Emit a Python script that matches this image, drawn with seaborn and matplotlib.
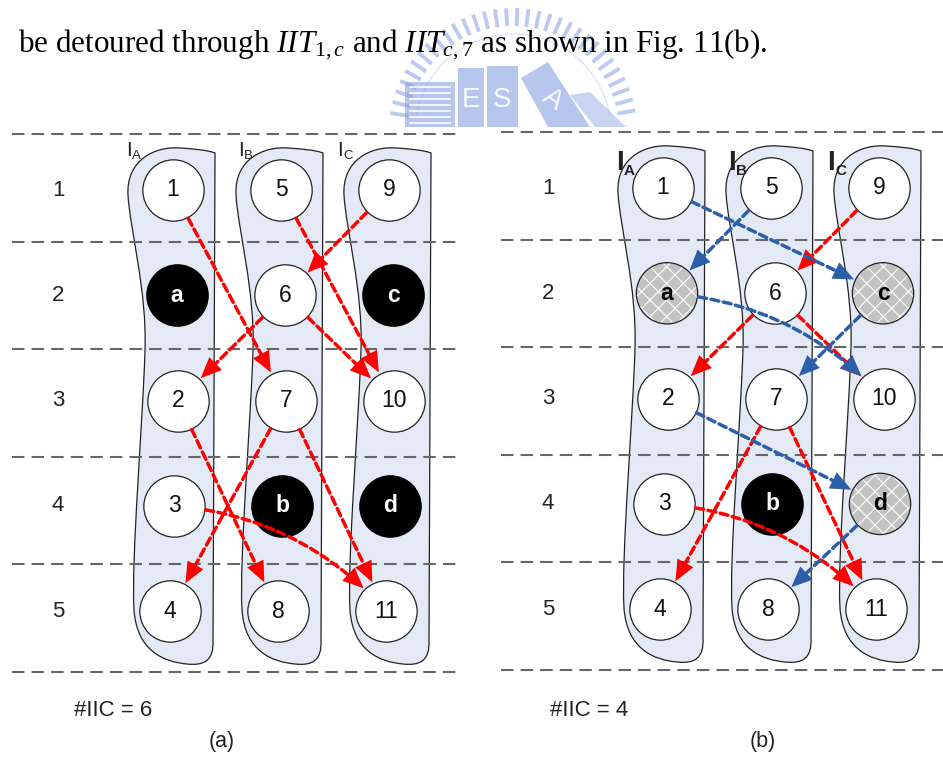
"""Fig. 11: inter-island connections before (a) and after (b) detouring."""

import matplotlib.pyplot as plt
import numpy as np
import pandas as pd
import seaborn as sns
from matplotlib.patches import PathPatch, Polygon, Rectangle
from matplotlib.path import Path

# ---- data -------------------------------------------------------------
row_labels = ["1", "2", "3", "4", "5"]
column_names = ["A", "B", "C"]
column_nodes = [
    ["1", "a", "2", "3", "4"],
    ["5", "6", "7", "b", "8"],
    ["9", "c", "10", "d", "11"],
]
panel_names = ["(a)", "(b)"]
iic_counts = [6, 4]
black_nodes = [["a", "b", "c", "d"], ["b"]]
hatched_nodes = [[], ["a", "c", "d"]]
red_edges = [
    [("1", "7"), ("5", "10"), ("9", "6"), ("6", "2"), ("6", "10"),
     ("2", "8"), ("7", "4"), ("7", "11"), ("3", "11")],
    [("9", "6"), ("6", "2"), ("6", "10"), ("7", "4"), ("7", "11"), ("3", "11")],
]
blue_edges = [
    [],
    [("1", "c"), ("5", "a"), ("a", "10"), ("c", "7"), ("2", "d"), ("d", "8")],
]
curved_edges = [("3", "11"), ("a", "10")]
sentence = (r"be detoured through $\mathit{IIT}_{\mathit{1,c}}$ and "
            r"$\mathit{IIT}_{\mathit{c,7}}$ as shown in Fig. 11(b).")

# ---- layout / style ---------------------------------------------------
W, H = 943, 758
panel_dx = [0, 490]
panel_dy = [0, -2]
col_x = 175 + 108 * np.arange(3)
row_y = 190 + 105.3 * np.arange(5)
row_wobble = [-2, 2, 3, -1, -5]
line_y = 134 + 107.6 * np.arange(6)
line_x = [(12, 462), (501, 943)]
label_dx = [-49, -45, -54]
iic_x = [74, 550]
caption_x = [222, 763]
RED = "#ff0000"
BLUE = "#2d5fa9"
BLOB = "#e3eaf6"
MARK = "#86a0e2"
NODE_S = 1950
NODE_R = 23      # node radius in points
HEAD_L = 15      # arrow head length in points

sns.set_theme(style="white")
plt.rcParams["font.family"] = ["Liberation Sans", "DejaVu Sans"]
plt.rcParams["mathtext.fontset"] = "custom"
plt.rcParams["mathtext.rm"] = "Liberation Serif"
plt.rcParams["mathtext.it"] = "Liberation Serif:italic"
plt.rcParams["hatch.linewidth"] = 0.8
plt.rcParams["hatch.color"] = "white"

rows = []
for p in range(2):
    for c, names in enumerate(column_nodes):
        for r, name in enumerate(names):
            kind = "white"
            if name in black_nodes[p]:
                kind = "black"
            elif name in hatched_nodes[p]:
                kind = "hatched"
            rows.append(dict(panel=p, name=name, kind=kind,
                             x=col_x[c] + row_wobble[r] + panel_dx[p],
                             y=row_y[r] + panel_dy[p]))
nodes = pd.DataFrame(rows)


def node_xy(p, name):
    row = nodes[(nodes.panel == p) & (nodes.name == name)].iloc[0]
    return row.x, row.y


def blob_patch(cx, dy):
    pts = [(40, 153), (39, 400), (38, 640),
           (39, 660), (30, 666), (12, 664),
           (-10, 662), (-38, 652), (-41, 610),
           (-44, 560), (-32, 420), (-30, 350),
           (-28, 290), (-45, 230), (-47, 195),
           (-49, 160), (-20, 146), (5, 148),
           (20, 149), (32, 150), (40, 153), (40, 153)]
    codes = [Path.MOVETO, Path.LINETO, Path.LINETO] + [Path.CURVE4] * 18 + [Path.CLOSEPOLY]
    verts = [(cx + x, y + dy) for x, y in pts]
    return PathPatch(Path(verts, codes), facecolor=BLOB, edgecolor="#222222",
                     lw=0.9, zorder=1)


fig = plt.figure(figsize=(9.43, 7.58), dpi=100)
ax = fig.add_axes([0, 0, 1, 1])
ax.set_xlim(0, W)
ax.set_ylim(H, 0)
ax.axis("off")

# watermark (university emblem, faint)
cx_m, cy_m = 513, 132
for ang in np.deg2rad(np.arange(10, 172, 5.2)):
    ax.plot([cx_m + 106 * np.cos(ang), cx_m + 124 * np.cos(ang)],
            [cy_m - 106 * np.sin(ang), cy_m - 124 * np.sin(ang)],
            color=MARK, lw=2.8, alpha=0.55, zorder=0, solid_capstyle="butt")
arc = np.deg2rad(np.linspace(10, 170, 80))
ax.plot(cx_m + 98 * np.cos(arc), cy_m - 98 * np.sin(arc), color=MARK, lw=0.8,
        alpha=0.35, zorder=0)
ax.add_patch(Rectangle((405, 82), 50, 45, color=MARK, alpha=0.6, zorder=0, lw=0))
for yy in np.arange(87, 126, 6):
    ax.plot([410, 450], [yy, yy], color="white", lw=1.5, alpha=0.8, zorder=0)
ax.add_patch(Rectangle((458, 68), 26, 59, color=MARK, alpha=0.6, zorder=0, lw=0))
ax.add_patch(Rectangle((487, 66), 31, 61, color=MARK, alpha=0.6, zorder=0, lw=0))
ax.add_patch(Polygon([(521, 78), (548, 62), (590, 127), (548, 127)],
                     color=MARK, alpha=0.6, zorder=0, lw=0))
ax.add_patch(Polygon([(570, 95), (590, 92), (626, 127), (595, 127)],
                     color=MARK, alpha=0.45, zorder=0, lw=0))
for ch, x, y, rot in (("E", 471, 100, 0), ("S", 502, 100, 0), ("A", 553, 100, -35)):
    ax.text(x, y, ch, color="white", fontsize=20, ha="center", va="center",
            rotation=rot, alpha=0.9, zorder=0)

# top sentence, fitted to the original line width
txt = ax.text(18, 52, sentence, fontsize=22, family="Liberation Serif",
              ha="left", va="baseline", color="black", zorder=3)
fig.canvas.draw()
width = txt.get_window_extent().width
txt.set_fontsize(22 * 750 / width)

for p in range(2):
    # row separators
    ax.hlines(line_y + panel_dy[p], *line_x[p], color="#666666", lw=1.5,
              linestyles=(0, (6, 3.4)), zorder=2)
    # islands
    for c in range(3):
        ax.add_patch(blob_patch(col_x[c] + panel_dx[p], panel_dy[p]))
        lx = col_x[c] + panel_dx[p] + label_dx[c]
        if p == 0:
            ax.text(lx, 151, "I", fontsize=15, ha="left", va="center",
                    color="#222222", zorder=6)
            ax.text(lx + 6, 156, column_names[c], fontsize=9.5, ha="left",
                    va="center", color="#222222", zorder=6)
        else:
            ax.text(lx, 163, "I", fontsize=20, fontweight="bold", ha="left",
                    va="center", color="#222222", zorder=6)
            ax.text(lx + 8, 171, column_names[c], fontsize=11,
                    fontweight="bold", ha="left", va="center",
                    color="#222222", zorder=6)
    for r, lab in enumerate(row_labels):
        ax.text(58 + panel_dx[p], row_y[r] + panel_dy[p], lab, fontsize=16,
                ha="center", va="center", color="#222222")
    ax.text(iic_x[p], 710, f"#IIC = {iic_counts[p]}", fontsize=16,
            ha="left", va="center", color="#222222")
    ax.text(caption_x[p], 742, panel_names[p], fontsize=15.5, ha="center",
            va="center", color="#222222")

# nodes
white = nodes[nodes.kind == "white"]
black = nodes[nodes.kind == "black"]
hatched = nodes[nodes.kind == "hatched"]
sns.scatterplot(data=white, x="x", y="y", s=NODE_S, color="white",
                edgecolor="#222222", linewidth=0.9, ax=ax, zorder=3, legend=False)
sns.scatterplot(data=black, x="x", y="y", s=NODE_S, color="black",
                edgecolor="black", linewidth=0.9, ax=ax, zorder=3, legend=False)
sns.scatterplot(data=hatched, x="x", y="y", s=NODE_S, color="#c2c2c2",
                edgecolor="white", linewidth=0, hatch="xx", ax=ax, zorder=3,
                legend=False)
ax.scatter(hatched.x, hatched.y, s=NODE_S, facecolors="none",
           edgecolors="#222222", linewidths=0.9, zorder=3.5)
ax.set_xlim(0, W)
ax.set_ylim(H, 0)
ax.set_xlabel("")
ax.set_ylabel("")

for row in nodes.itertuples():
    if row.kind == "black":
        ax.text(row.x, row.y, row.name, color="white", fontsize=16.5,
                fontweight="bold", ha="center", va="center", zorder=4)
    elif row.kind == "hatched":
        ax.text(row.x, row.y, row.name, color="black", fontsize=16.5,
                fontweight="bold", ha="center", va="center", zorder=4)
    else:
        ax.text(row.x, row.y, row.name, color="#111111", fontsize=16.5,
                ha="center", va="center", zorder=4)

# connections: dashed shaft plus solid head
for p in range(2):
    for edges, color in ((red_edges[p], RED), (blue_edges[p], BLUE)):
        for s, t in edges:
            rad = -0.2 if (s, t) in curved_edges else 0.0
            conn = f"arc3,rad={rad}"
            src, dst = node_xy(p, s), node_xy(p, t)
            ax.annotate("", xy=dst, xytext=src,
                        arrowprops=dict(arrowstyle="-", color=color, lw=2.5,
                                        linestyle=(0, (2.3, 1.3)),
                                        shrinkA=NODE_R,
                                        shrinkB=NODE_R + HEAD_L - 3,
                                        connectionstyle=conn),
                        zorder=5)
            ax.annotate("", xy=dst, xytext=src,
                        arrowprops=dict(
                            arrowstyle="-|>,head_length=1.5,head_width=0.65",
                            facecolor=color, edgecolor="none", lw=0,
                            shrinkA=NODE_R, shrinkB=NODE_R,
                            mutation_scale=10, connectionstyle=conn),
                        zorder=5)

fig.savefig("out.png", dpi=100)
